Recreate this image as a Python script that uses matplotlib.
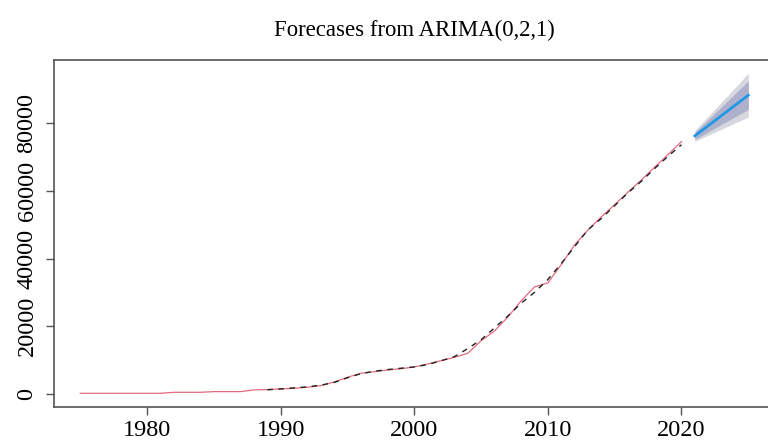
import matplotlib
matplotlib.use("Agg")
import matplotlib.pyplot as plt
import numpy as np

# Observed series (annual)
years = list(range(1975, 2021))
observed = [200, 200, 200, 200, 200, 200, 200, 500, 500, 500,
            700, 700, 700, 1200, 1300, 1500, 1680, 1980, 2460, 3540,
            4920, 6100, 6590, 7080, 7470, 7970, 8860, 9830, 10830, 12000,
            15700, 18600, 22700, 27500, 31600, 32800, 38200, 44000, 48400, 52300,
            55900, 59600, 63200, 67000, 70700, 74500]

# Fitted values (dashed)
fit_years = list(range(1989, 2021))
fitted = [1250, 1500, 1800, 2100, 2600, 3400, 4800, 6000, 6700, 7200,
          7600, 8000, 8700, 9800, 11000, 13400, 16000, 19500, 23000, 26800,
          30000, 33800, 38500, 43500, 48500, 51800, 55600, 59400, 62800, 66600,
          70200, 73600]

# Forecasts
fc_years = [2021, 2022, 2023, 2024, 2025]
fc_mean = [76200, 79200, 82200, 85200, 88200]
lo80 = [75150, 77350, 79600, 81800, 84000]
hi80 = [77250, 81050, 84800, 88600, 92400]
lo95 = [74600, 76400, 78200, 80000, 81700]
hi95 = [77800, 82000, 86200, 90400, 94700]

xticks = [1980, 1990, 2000, 2010, 2020]
yticks = [0, 20000, 40000, 60000, 80000]

serif = ["Liberation Serif", "DejaVu Serif"]

fig = plt.figure(figsize=(7.68, 4.4), dpi=100)
ax = fig.add_axes([53.5 / 768, 33 / 440, 721.5 / 768, 347 / 440])

ax.fill_between(fc_years, lo95, hi95, color="#D6D7DF", linewidth=0)
ax.fill_between(fc_years, lo80, hi80, color="#ADB1CC", linewidth=0)
ax.plot(fc_years, fc_mean, color="#2297E6", linewidth=2)

ax.plot(years, observed, color="#E36A7E", linewidth=0.9)
ax.plot(fit_years, fitted, color="#222222", linewidth=1.0, linestyle=(0, (4, 4)))

ax.set_xlim(1973, 2027)
ax.set_ylim(-3838, 98600)
ax.set_xticks(xticks)
ax.set_xticklabels([str(t) for t in xticks])
ax.set_yticks(yticks)
ax.set_yticklabels([str(t) for t in yticks], rotation=90, va="center")

for lab in ax.get_xticklabels() + ax.get_yticklabels():
    lab.set_fontfamily(serif)
    lab.set_fontsize(17.5)
    lab.set_color("black")

ax.tick_params(axis="both", direction="out", length=5.5, width=1.0, color="#555555")
ax.tick_params(axis="x", pad=3.5)
ax.tick_params(axis="y", pad=6)
for sp in ax.spines.values():
    sp.set_color("#555555")
    sp.set_linewidth(1.2)

fig.text((53.5 + 775) / 2 / 768, 1 - 36 / 440, "Forecases from ARIMA(0,2,1)",
         ha="center", va="baseline", fontsize=16.4, family=serif)

fig.savefig("out.png", dpi=100)
